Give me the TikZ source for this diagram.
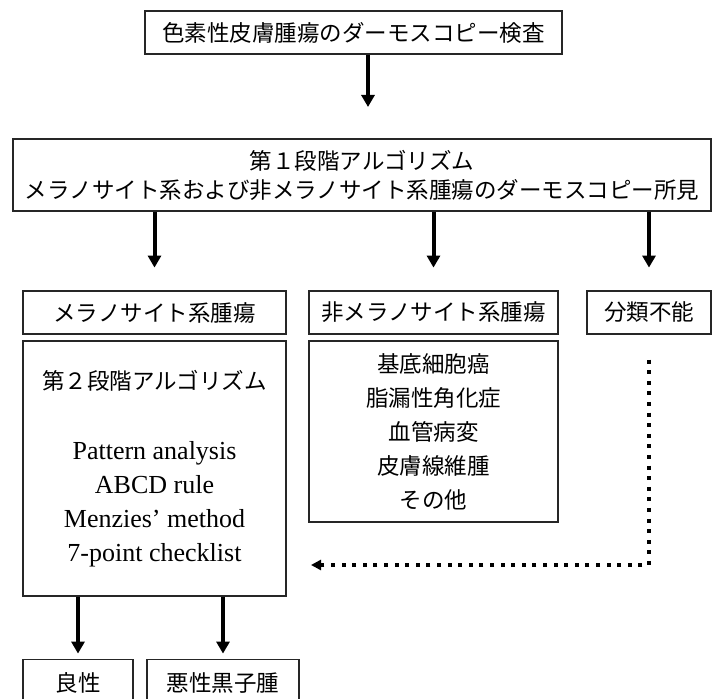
\documentclass[tikz,border=0pt]{standalone}
\usepackage{fontspec}
\setmainfont{Liberation Serif}
\newfontfamily\jpfont{Noto Sans CJK JP}
\usetikzlibrary{positioning,arrows.meta}

\begin{document}
\begin{tikzpicture}[x=0.5pt,y=-0.5pt,
        box/.style={draw=black!85,line width=0.6pt,inner sep=0pt,align=center,
            font=\jpfont\fontsize{11.25}{17}\selectfont},
        arr/.style={line width=2pt,-{Triangle[width=6.5pt,length=6pt]}},
        dotarr/.style={line width=2pt,dash pattern=on 2pt off 3.3pt,-{Triangle[width=5pt,length=5pt]}}]
        \useasboundingbox (0,0) rectangle (713,699);
        % top row
        \node[box,minimum width=208.5pt,minimum height=21.5pt] (exam) at (353.5,32.5) {色素性皮膚腫瘍のダーモスコピー検査};
        \node[box,minimum width=349pt,minimum height=36pt,font=\jpfont\fontsize{11.25}{14.5}\selectfont] (stage1) at (362,175)
            {第１段階アルゴリズム\\メラノサイト系および非メラノサイト系腫瘍のダーモスコピー所見};
        % classes
        \node[box,minimum width=131.5pt,minimum height=21.5pt] (melano) at (154.5,312.5) {メラノサイト系腫瘍};
        \node[box,minimum width=124.5pt,minimum height=21.5pt] (nonmel) at (433.5,312.5) {非メラノサイト系腫瘍};
        \node[box,minimum width=62pt,minimum height=21.5pt] (unclass) at (649,312.5) {分類不能};
        \node[box,minimum width=131.5pt,minimum height=127.5pt,font=\rmfamily\fontsize{13}{17}\selectfont] (algo2) at (154.5,468.5)
            {{\jpfont\fontsize{11.25}{17}\selectfont 第２段階アルゴリズム}\\[18pt]
             Pattern analysis\\ABCD rule\\Menzies’ method\\7-point checklist};
        \node[box,minimum width=124.5pt,minimum height=90.5pt] (nmlist) at (433.5,431.5)
            {基底細胞癌\\脂漏性角化症\\血管病変\\皮膚線維腫\\その他};
        % results
        \node[box,minimum width=55pt,minimum height=23pt] (benign) at (78,682.5) {良性};
        \node[box,minimum width=76pt,minimum height=23pt] (malig) at (223,682.5) {悪性黒子腫};

        \coordinate (examout) at (368,107);
        \coordinate (dotend) at (311,565);
        \draw[arr] (exam.south -| examout) -- (examout);
        \foreach \n in {melano,nonmel,unclass}
            \draw[arr] (stage1.south -| \n) -- ++(0,56);
        \foreach \n in {benign,malig}
            \draw[arr] (algo2.south -| \n) -- ++(0,57);
        \draw[dotarr] ([yshift=-12.5pt]unclass.south) |- (dotend);
    \end{tikzpicture}
\end{document}
